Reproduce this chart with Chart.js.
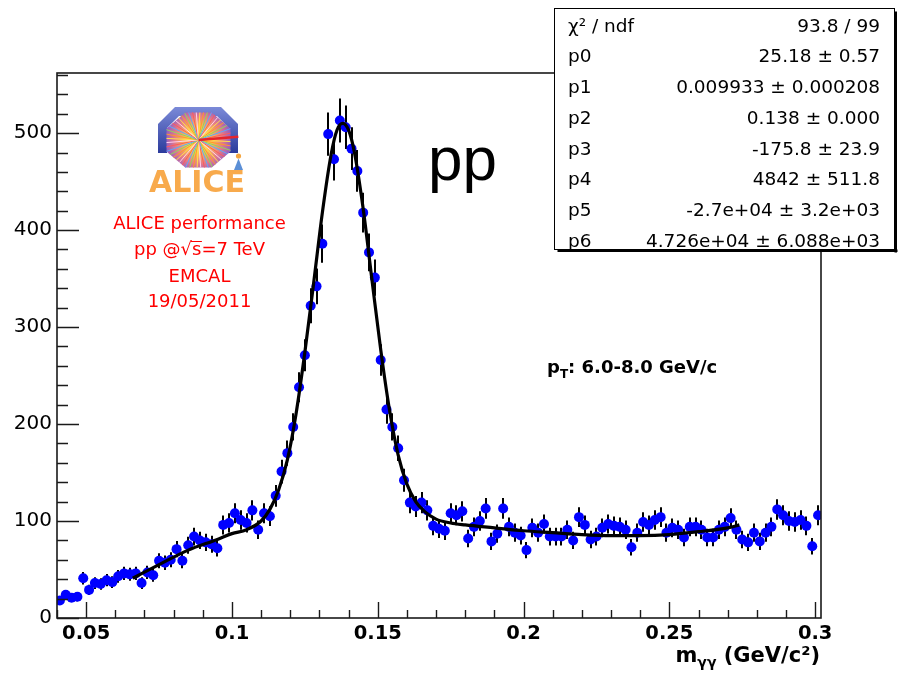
<!DOCTYPE html>
<html>
<head>
<meta charset="utf-8">
<script src="https://cdn.jsdelivr.net/npm/chart.js@4.4.1/dist/chart.umd.min.js"></script>
<style>
  html, body { margin: 0; padding: 0; background: #ffffff; }
  canvas { display: block; }
</style>
</head>
<body>
<canvas id="c" width="898" height="683"></canvas>
<script>
// Invariant mass histogram: 131 bins of 2 MeV from 0.04 to 0.302 GeV/c^2
const massLow = 0.04;
const massHigh = 0.302;
const binWidth = 0.002;

// Entries per bin
const counts = [
  18, 24, 21, 22, 41, 29, 36, 35, 39, 37, 43, 46, 45, 46, 36, 47, 44, 59, 57, 60, 71, 59, 75, 84,
  80, 78, 76, 72, 96, 98, 108, 101, 98, 111, 91, 108, 105, 126, 151, 170, 197, 238, 271,
  322, 342, 386, 499, 473, 513, 506, 484, 461, 418, 377, 351,
  266, 215, 197, 175, 142, 119, 115, 119, 111, 95, 92, 90, 108, 106, 110, 82, 94, 100, 113, 79, 87,
  113, 94, 88, 85, 70, 93, 88, 97, 84, 84, 84, 91, 80, 104,
  96, 81, 84, 93, 97, 95, 94, 91, 73, 88, 99, 96, 101,
  104, 88, 93, 91, 83, 94, 94, 91, 83, 83, 91, 94, 103, 91, 81, 78, 88, 79, 88, 94, 112, 106, 100, 99, 101, 95, 74, 106
];

// Fitted curve (gaussian peak on a cubic background), sampled along the fit range
const fitMass = [0.066, 0.075, 0.085, 0.095, 0.100, 0.105, 0.110, 0.113, 0.116, 0.119, 0.122, 0.125,
  0.128, 0.131, 0.134, 0.136, 0.138, 0.140, 0.142, 0.145, 0.148, 0.151, 0.154, 0.157, 0.160, 0.163,
  0.166, 0.170, 0.175, 0.180, 0.190, 0.200, 0.210, 0.220, 0.230, 0.240, 0.250, 0.260, 0.270, 0.274];
const fitCounts = [41, 55, 70, 81, 87, 91, 100, 112, 132, 163, 211, 274,
  345, 418, 478, 503, 510, 503, 480, 422, 349, 277, 215, 168, 138, 120,
  110, 102, 98, 96, 93, 90, 88, 86, 85, 85, 86, 89, 93, 96];

// Axes
const xTickValues = [0.05, 0.1, 0.15, 0.2, 0.25, 0.3];
const xTickLabels = ['0.05', '0.1', '0.15', '0.2', '0.25', '0.3'];
const xMinorStep = 0.01;
const yTickValues = [0, 100, 200, 300, 400, 500];
const yTickLabels = ['0', '100', '200', '300', '400', '500'];
const yMinorStep = 20;
const yMax = 562;

// Fit statistics box
const statNames = ['\u03c7\u00b2 / ndf', 'p0', 'p1', 'p2', 'p3', 'p4', 'p5', 'p6'];
const statValues = ['93.8 / 99', '25.18 \u00b1 0.57', '0.009933 \u00b1 0.000208', '0.138 \u00b1 0.000',
  '-175.8 \u00b1 23.9', '4842 \u00b1 511.8', '-2.7e+04 \u00b1 3.2e+03', '4.726e+04 \u00b1 6.088e+03'];

// Annotation text
const infoLines = ['ALICE performance', 'pp @', 'EMCAL', '19/05/2011'];

const FONT = '"DejaVu Sans", sans-serif';

const histPoints = counts.map((n, i) => ({ x: massLow + binWidth * (i + 0.5), y: n }));
const fitPoints = fitMass.map((m, i) => ({ x: m, y: fitCounts[i] }));

function drawLogo(ctx) {
  ctx.save();
  // magnet yoke
  const yoke = ctx.createLinearGradient(0, 107, 0, 153);
  yoke.addColorStop(0, '#7b8ad8');
  yoke.addColorStop(1, '#2b3b9c');
  ctx.fillStyle = yoke;
  ctx.beginPath();
  ctx.moveTo(158, 153); ctx.lineTo(158, 124); ctx.lineTo(175, 107); ctx.lineTo(221, 107);
  ctx.lineTo(238, 124); ctx.lineTo(238, 153); ctx.lineTo(229, 153); ctx.lineTo(229, 128);
  ctx.lineTo(217, 116); ctx.lineTo(179, 116); ctx.lineTo(167, 128); ctx.lineTo(167, 153);
  ctx.closePath();
  ctx.fill();

  // detector octagon with collision rays
  const cx = 198.5, cy = 140, rx = 32, ry = 27.5;
  const k = Math.tan(Math.PI / 8);
  const oct = [
    [cx - rx * k, cy - ry], [cx + rx * k, cy - ry], [cx + rx, cy - ry * k], [cx + rx, cy + ry * k],
    [cx + rx * k, cy + ry], [cx - rx * k, cy + ry], [cx - rx, cy + ry * k], [cx - rx, cy - ry * k]
  ];
  ctx.beginPath();
  oct.forEach((p, i) => i ? ctx.lineTo(p[0], p[1]) : ctx.moveTo(p[0], p[1]));
  ctx.closePath();
  const core = ctx.createRadialGradient(cx, cy, 1, cx, cy, 34);
  core.addColorStop(0, '#fff6b0');
  core.addColorStop(0.35, '#ffc44d');
  core.addColorStop(0.7, '#e27a8a');
  core.addColorStop(1, '#8a5ac8');
  ctx.fillStyle = core;
  ctx.fill();
  ctx.save();
  ctx.clip();
  const rayColors = ['#ffe04a', '#ff9a2a', '#8fd75a', '#5aa8ff', '#ff5a5a', '#ffd0f0'];
  ctx.lineWidth = 1;
  for (let a = 0; a < 48; a++) {
    const ang = a * Math.PI * 2 / 48 + 0.05;
    ctx.strokeStyle = rayColors[a % rayColors.length];
    ctx.beginPath();
    ctx.moveTo(cx, cy);
    ctx.lineTo(cx + Math.cos(ang) * 40, cy + Math.sin(ang) * 40);
    ctx.stroke();
  }
  ctx.restore();
  ctx.strokeStyle = '#e4242c';
  ctx.lineWidth = 2.5;
  ctx.stroke();

  // small figure beside the detector
  ctx.fillStyle = '#f4a640';
  ctx.beginPath(); ctx.arc(238.5, 156, 2.6, 0, Math.PI * 2); ctx.fill();
  ctx.fillStyle = '#5b8fd6';
  ctx.beginPath(); ctx.moveTo(238.5, 158.5); ctx.lineTo(234, 170); ctx.lineTo(243, 170); ctx.closePath(); ctx.fill();

  // name
  ctx.fillStyle = '#f8aa4c';
  ctx.font = 'bold 30px ' + FONT;
  ctx.textAlign = 'center';
  ctx.textBaseline = 'alphabetic';
  ctx.fillText('ALICE', 197, 192);
  ctx.restore();
}

function drawInfo(ctx) {
  ctx.save();
  ctx.fillStyle = '#ff0000';
  ctx.strokeStyle = '#ff0000';
  ctx.font = '18px ' + FONT;
  ctx.textBaseline = 'alphabetic';
  ctx.textAlign = 'center';
  const cx = 199.5;
  ctx.fillText(infoLines[0], cx, 228.5);
  ctx.fillText(infoLines[2], cx, 281.5);
  ctx.fillText(infoLines[3], cx, 307);
  // energy line with square root sign
  const a = 'pp @', r = '\u221a', s = 's', b = '=7 TeV';
  const wa = ctx.measureText(a).width, wr = ctx.measureText(r).width;
  const ws = ctx.measureText(s).width, wb = ctx.measureText(b).width;
  let x = cx - (wa + wr + ws + wb) / 2;
  ctx.textAlign = 'left';
  ctx.fillText(a, x, 255); x += wa;
  ctx.fillText(r, x, 255);
  ctx.lineWidth = 1;
  ctx.beginPath(); ctx.moveTo(x + wr - 1, 241.5); ctx.lineTo(x + wr + ws + 0.5, 241.5); ctx.stroke();
  x += wr;
  ctx.fillText(s, x, 255); x += ws;
  ctx.fillText(b, x, 255);
  ctx.restore();
}

function drawRich(ctx, parts, x, y, align) {
  // parts: [text, fontSize, baselineShift]
  let total = 0;
  parts.forEach(p => { ctx.font = 'bold ' + p[1] + 'px ' + FONT; total += ctx.measureText(p[0]).width; });
  let cx = align === 'right' ? x - total : x;
  ctx.textAlign = 'left';
  parts.forEach(p => {
    ctx.font = 'bold ' + p[1] + 'px ' + FONT;
    ctx.fillText(p[0], cx, y + p[2]);
    cx += ctx.measureText(p[0]).width;
  });
}

const decor = {
  id: 'decor',
  beforeDatasetsDraw(chart) {
    // Poisson error bars
    const ctx = chart.ctx, xs = chart.scales.x, ys = chart.scales.y, area = chart.chartArea;
    ctx.save();
    ctx.beginPath();
    ctx.rect(area.left, area.top, area.right - area.left, area.bottom - area.top);
    ctx.clip();
    ctx.strokeStyle = '#000000';
    ctx.lineWidth = 2;
    histPoints.forEach(p => {
      const err = Math.sqrt(p.y);
      const px = Math.round(xs.getPixelForValue(p.x)) + 0.0;
      ctx.beginPath();
      ctx.moveTo(px, ys.getPixelForValue(p.y - err));
      ctx.lineTo(px, ys.getPixelForValue(p.y + err));
      ctx.stroke();
    });
    ctx.restore();
  },
  afterDraw(chart) {
    const ctx = chart.ctx, xs = chart.scales.x, ys = chart.scales.y, a = chart.chartArea;
    ctx.save();
    // frame
    ctx.strokeStyle = '#1a1a1a';
    ctx.lineWidth = 1.6;
    ctx.strokeRect(a.left, a.top, a.right - a.left, a.bottom - a.top);
    // ticks along the left axis (inside the frame)
    ctx.lineWidth = 1.4;
    ctx.beginPath();
    for (let v = 0; v <= yMax; v += yMinorStep) {
      const py = Math.round(ys.getPixelForValue(v)) + 0.5;
      const len = (v % 100 === 0) ? 22 : 11;
      ctx.moveTo(a.left, py); ctx.lineTo(a.left + len, py);
    }
    // ticks along the bottom axis
    for (let i = 0; massLow + i * xMinorStep <= massHigh + 1e-9; i++) {
      const v = massLow + i * xMinorStep;
      const px = Math.round(xs.getPixelForValue(v)) + 0.5;
      const major = xTickValues.some(t => Math.abs(t - v) < 1e-6);
      ctx.moveTo(px, a.bottom); ctx.lineTo(px, a.bottom - (major ? 16 : 8));
    }
    ctx.stroke();

    // axis title
    ctx.fillStyle = '#000000';
    ctx.textBaseline = 'alphabetic';
    drawRich(ctx, [['m', 21, 0], ['\u03b3\u03b3', 14, 5], [' (GeV/c\u00b2)', 21, 0]], 820, 662, 'right');

    // transverse momentum bin
    drawRich(ctx, [['p', 18, 0], ['T', 12, 5], [': 6.0-8.0 GeV/c', 18, 0]], 547, 373, 'left');

    // collision system
    ctx.font = '62px "Liberation Sans", sans-serif';
    ctx.textAlign = 'left';
    ctx.fillText('pp', 428, 180);

    drawLogo(ctx);
    drawInfo(ctx);

    // fit statistics box
    const bx = 554.5, by = 8.5, bw = 340, bh = 241;
    ctx.fillStyle = '#000000';
    ctx.fillRect(bx + 3, by + bh, bw, 2.5);
    ctx.fillRect(bx + bw, by + 3, 2.5, bh);
    ctx.fillStyle = '#ffffff';
    ctx.fillRect(bx, by, bw, bh);
    ctx.strokeStyle = '#000000';
    ctx.lineWidth = 1;
    ctx.strokeRect(bx, by, bw, bh);
    ctx.fillStyle = '#000000';
    ctx.font = '18.5px ' + FONT;
    statNames.forEach((name, i) => {
      const yb = 31.5 + 30.75 * i;
      ctx.textAlign = 'left';
      ctx.fillText(name, 568, yb);
      ctx.textAlign = 'right';
      ctx.fillText(statValues[i], 880, yb);
    });
    ctx.restore();
  }
};

new Chart(document.getElementById('c'), {
  type: 'scatter',
  data: {
    datasets: [
      {
        label: 'fit',
        data: fitPoints,
        showLine: true,
        borderColor: '#000000',
        borderWidth: 3.2,
        pointRadius: 0,
        cubicInterpolationMode: 'monotone',
        order: 0
      },
      {
        label: 'entries',
        data: histPoints,
        pointRadius: 5,
        pointBackgroundColor: '#0000ff',
        pointBorderWidth: 0,
        order: 1
      }
    ]
  },
  options: {
    responsive: false,
    devicePixelRatio: 1,
    animation: false,
    layout: { padding: { left: 0, right: 77, top: 73, bottom: 0 } },
    plugins: { legend: { display: false }, tooltip: { enabled: false }, title: { display: false } },
    scales: {
      x: {
        type: 'linear',
        min: massLow,
        max: massHigh,
        afterFit(s) { s.height = 65; },
        afterBuildTicks(s) { s.ticks = xTickValues.map(v => ({ value: v })); },
        ticks: {
          callback: (v, i) => xTickLabels[i],
          font: { family: 'DejaVu Sans', size: 19.5, weight: 'bold' },
          color: '#000000',
          padding: 4,
          maxRotation: 0,
          autoSkip: false
        },
        grid: { display: false, drawTicks: false },
        border: { display: false }
      },
      y: {
        min: 0,
        max: yMax,
        afterFit(s) { s.width = 57; },
        afterBuildTicks(s) { s.ticks = yTickValues.map(v => ({ value: v })); },
        ticks: {
          callback: (v, i) => yTickLabels[i],
          font: { family: 'DejaVu Sans', size: 20 },
          color: '#000000',
          padding: 5,
          autoSkip: false
        },
        grid: { display: false, drawTicks: false },
        border: { display: false }
      }
    }
  },
  plugins: [decor]
});
</script>
</body>
</html>
